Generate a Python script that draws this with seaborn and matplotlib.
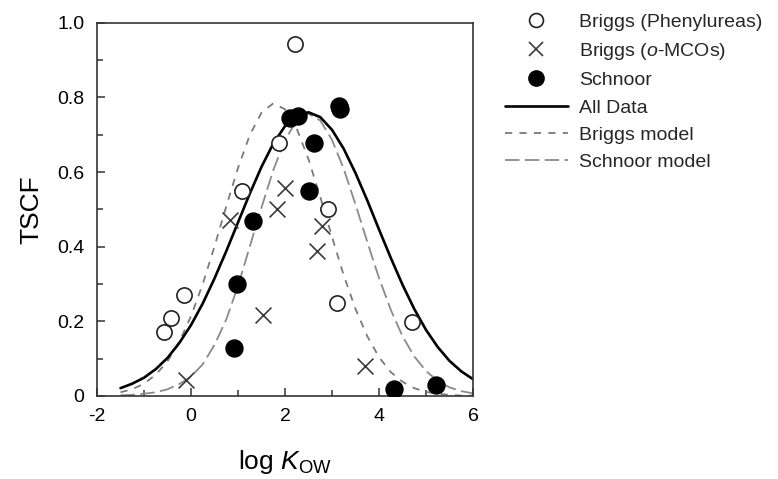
import numpy as np
import pandas as pd
import seaborn as sns
import matplotlib.pyplot as plt
from matplotlib.lines import Line2D

# measured points
phen_x = [2.22, 1.87, 1.09, -0.15, -0.43, -0.58, 2.91, 3.11, 4.70]
phen_y = [0.942, 0.679, 0.549, 0.270, 0.208, 0.172, 0.501, 0.250, 0.198]

mco_x = [0.84, -0.11, 1.53, 1.82, 2.01, 2.78, 2.68, 3.70]
mco_y = [0.471, 0.043, 0.217, 0.501, 0.558, 0.456, 0.389, 0.081]

schnoor_x = [2.10, 2.28, 2.61, 2.51, 3.14, 3.18, 1.32, 0.97, 0.91, 4.31, 5.21]
schnoor_y = [0.744, 0.750, 0.679, 0.550, 0.777, 0.768, 0.469, 0.299, 0.128, 0.020, 0.030]

# curves, every 0.25 log units from -1.5 to 6
curve_x = [-1.5, -1.25, -1.0, -0.75, -0.5, -0.25, 0.0, 0.25, 0.5, 0.75, 1.0,
           1.25, 1.5, 1.75, 2.0, 2.25, 2.5, 2.75, 3.0, 3.25, 3.5, 3.75, 4.0,
           4.25, 4.5, 4.75, 5.0, 5.25, 5.5, 5.75, 6.0]
all_data_y = [0.021, 0.033, 0.049, 0.072, 0.102, 0.142, 0.190, 0.248, 0.315, 0.388, 0.465,
              0.542, 0.614, 0.676, 0.723, 0.752, 0.760, 0.747, 0.713, 0.662, 0.597, 0.524, 0.446,
              0.370, 0.298, 0.233, 0.177, 0.131, 0.094, 0.066, 0.045]
briggs_y = [0.010, 0.018, 0.033, 0.057, 0.093, 0.145, 0.214, 0.300, 0.401, 0.508, 0.611,
            0.699, 0.759, 0.784, 0.768, 0.716, 0.634, 0.533, 0.426, 0.323, 0.233, 0.160, 0.104,
            0.064, 0.038, 0.021, 0.011, 0.006, 0.003, 0.001, 0.001]
schnoor_model_y = [0.002, 0.003, 0.006, 0.010, 0.018, 0.032, 0.052, 0.085, 0.137, 0.205, 0.295,
                   0.400, 0.505, 0.605, 0.686, 0.738, 0.756, 0.738, 0.686, 0.608, 0.513, 0.413, 0.316,
                   0.231, 0.160, 0.106, 0.067, 0.040, 0.023, 0.013, 0.007]

x_ticks = [-2, 0, 2, 4, 6]
y_ticks = [0, 0.2, 0.4, 0.6, 0.8, 1.0]
y_tick_labels = ['0', '0.2', '0.4', '0.6', '0.8', '1.0']

sns.set_style("white")
plt.rcParams['font.family'] = ['Liberation Sans', 'DejaVu Sans']
plt.rcParams['mathtext.fontset'] = 'custom'
plt.rcParams['mathtext.rm'] = 'Liberation Sans'
plt.rcParams['mathtext.it'] = 'Liberation Sans:italic'
plt.rcParams['axes.unicode_minus'] = False

fig = plt.figure(figsize=(7.78, 4.79), dpi=100)
ax = fig.add_axes([0.1247, 0.1733, 0.4833, 0.7793])

curves = pd.DataFrame({'x': curve_x, 'all': all_data_y, 'briggs': briggs_y, 'schnoor': schnoor_model_y})

sns.lineplot(data=curves, x='x', y='briggs', ax=ax, color='#7a7a7a', lw=1.3,
             linestyle=(0, (4, 4)))
sns.lineplot(data=curves, x='x', y='schnoor', ax=ax, color='#8a8a8a', lw=1.3,
             linestyle=(0, (8, 3)))
sns.lineplot(data=curves, x='x', y='all', ax=ax, color='black', lw=1.9)

sns.scatterplot(x=phen_x, y=phen_y, ax=ax, marker='o', s=120, facecolor='white',
                edgecolor='#222222', linewidth=1.2, zorder=5)
sns.scatterplot(x=mco_x, y=mco_y, ax=ax, marker='x', s=130, color='#3a3a3a',
                linewidth=1.2, zorder=5)
sns.scatterplot(x=schnoor_x, y=schnoor_y, ax=ax, marker='o', s=150, color='black',
                edgecolor='black', zorder=6)

ax.set_xlim(-2, 6)
ax.set_ylim(0, 1.0)
ax.set_xticks(x_ticks)
ax.set_xticks([-1, 1, 3, 5], minor=True)
ax.set_yticks(y_ticks)
ax.set_yticklabels(y_tick_labels)
ax.set_yticks([0.1, 0.3, 0.5, 0.7, 0.9], minor=True)
ax.tick_params(which='both', direction='in', left=True, bottom=True, top=False, right=False,
               labelsize=14, pad=9, width=1.1, color='#333333', labelcolor='black')
ax.tick_params(which='major', length=6)
ax.tick_params(which='minor', length=4)
for s in ax.spines.values():
    s.set_linewidth(1.2)
    s.set_color('#333333')

ax.set_xlabel(r'log $\mathit{K}_{\mathrm{OW}}$', fontsize=19, labelpad=16, color='black')
ax.set_ylabel('TSCF', fontsize=19, labelpad=10, color='black')

handles = [
    Line2D([], [], ls='none', marker='o', ms=10, mfc='white', mec='#222222', mew=1.2),
    Line2D([], [], ls='none', marker='x', ms=10, color='#3a3a3a', mew=1.2),
    Line2D([], [], ls='none', marker='o', ms=11, color='black'),
    Line2D([], [], color='black', lw=1.9),
    Line2D([], [], color='#7a7a7a', lw=1.3, ls=(0, (4, 4))),
    Line2D([], [], color='#8a8a8a', lw=1.3, ls=(0, (8, 3))),
]
labels = ['Briggs (Phenylureas)', r'Briggs ($\mathit{o}$-MCOs)', 'Schnoor',
          'All Data', 'Briggs model', 'Schnoor model']
fig.legend(handles, labels, loc='upper left', bbox_to_anchor=(0.632, 1.0),
           frameon=False, fontsize=14, handlelength=3.2, handletextpad=0.6,
           labelspacing=0.5, borderpad=0.2)

fig.savefig('out.png', dpi=100)
